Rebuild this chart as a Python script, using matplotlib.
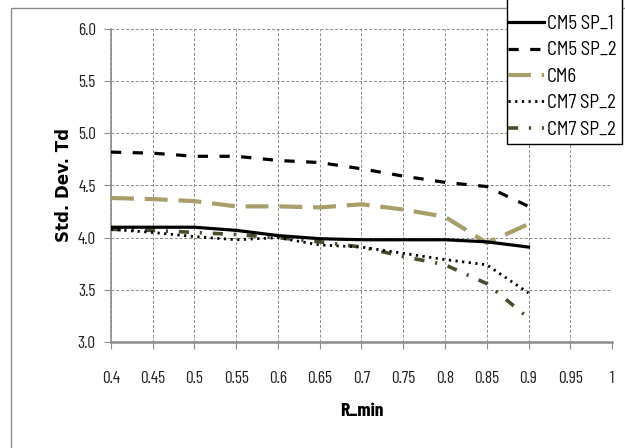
import matplotlib
matplotlib.use("Agg")
import matplotlib.pyplot as plt
from matplotlib.patches import Rectangle

plt.rcParams['font.family'] = ['Barlow Condensed', 'DejaVu Sans']

# data
r_min = [0.4, 0.45, 0.5, 0.55, 0.6, 0.65, 0.7, 0.75, 0.8, 0.85, 0.9]
cm5_sp1 = [4.10, 4.10, 4.10, 4.07, 4.02, 3.99, 3.98, 3.98, 3.98, 3.96, 3.91]
cm5_sp2 = [4.82, 4.81, 4.78, 4.78, 4.74, 4.72, 4.66, 4.59, 4.53, 4.49, 4.30]
cm6 = [4.38, 4.37, 4.35, 4.30, 4.30, 4.29, 4.32, 4.27, 4.20, 3.95, 4.13]
cm7_sp2_dot = [4.08, 4.05, 4.01, 3.98, 4.00, 3.93, 3.91, 3.85, 3.79, 3.74, 3.47]
cm7_sp2_dashdot = [4.08, 4.07, 4.05, 4.03, 4.00, 3.96, 3.91, 3.82, 3.74, 3.56, 3.23]

x_ticks = [0.4, 0.45, 0.5, 0.55, 0.6, 0.65, 0.7, 0.75, 0.8, 0.85, 0.9, 0.95, 1]
x_labels = ['0.4', '0.45', '0.5', '0.55', '0.6', '0.65', '0.7', '0.75', '0.8', '0.85', '0.9', '0.95', '1']
y_ticks = [3.0, 3.5, 4.0, 4.5, 5.0, 5.5, 6.0]

fig = plt.figure(figsize=(6.25, 4.48), dpi=100)
ax = fig.add_axes([111/625, 106/448, 501/625, 313/448])

# outer chart border
fig.patches.append(Rectangle((11/625, -0.1), 1.2, (440/448) + 0.1, transform=fig.transFigure,
                             fill=False, edgecolor='#8c8c8c', linewidth=1.0))

khaki = '#a89e6a'
olive = '#4f4a2e'

ax.plot(r_min, cm5_sp1, color='black', lw=2.3, label='CM5 SP_1', zorder=5)
ax.plot(r_min, cm5_sp2, color='black', lw=2.3, dashes=(3.2, 3.6), label='CM5 SP_2', zorder=5)
ax.plot(r_min, cm6, color=khaki, lw=3.0, dashes=(5.5, 2.6), label='CM6', zorder=4)
ax.plot(r_min, cm7_sp2_dot, color='black', lw=2.0, dashes=(0.8, 1.6), label='CM7 SP_2', zorder=5)
ax.plot(r_min, cm7_sp2_dashdot, color=olive, lw=2.6, dashes=(2.8, 3.0, 0.6, 3.0), label='CM7 SP_2', zorder=4)

ax.set_xlim(0.4, 1.0)
ax.set_ylim(3.0, 6.0)
ax.set_xticks(x_ticks)
ax.set_xticklabels(x_labels)
ax.set_yticks(y_ticks)
ax.set_yticklabels(['%.1f' % v for v in y_ticks])

ax.grid(True, color='#8a8a8a', linestyle=(0, (3, 2)), linewidth=0.7)
for side in ['top', 'right']:
    ax.spines[side].set_visible(False)
ax.spines['left'].set_color('#8c8c8c')
ax.spines['bottom'].set_color('#8c8c8c')
ax.spines['left'].set_linewidth(1.2)
ax.spines['bottom'].set_linewidth(1.8)

ax.tick_params(axis='both', colors='#8c8c8c', labelcolor='#222222', labelsize=12.5, length=5)
ax.tick_params(axis='x', pad=16)
ax.tick_params(axis='y', pad=6)

ax.set_ylabel('Std. Dev. Td', fontsize=12, fontweight='bold', family=['DejaVu Sans'], labelpad=3)
ax.set_xlabel('R_min', fontsize=14, fontweight='bold', labelpad=12)

# legend: Excel-style box whose top runs past the image edge
leg = fig.legend(loc='upper right', bbox_to_anchor=(620/625, 1 - 11/448),
                 prop={'family': ['Barlow Semi Condensed'], 'size': 13.5},
                 frameon=False, handlelength=1.9, handletextpad=0.15, labelspacing=0.45,
                 borderpad=0.2, borderaxespad=0.0)
fig.canvas.draw()
bb = leg.get_window_extent().transformed(fig.transFigure.inverted())
fig.patches.append(Rectangle((507/625, bb.y0 - 2/448), 115/625, 1.1 - bb.y0, transform=fig.transFigure,
                             fill=True, facecolor='white', edgecolor='black', linewidth=1.0, zorder=3))
leg.set_zorder(4)

fig.savefig('out.png', dpi=100)
